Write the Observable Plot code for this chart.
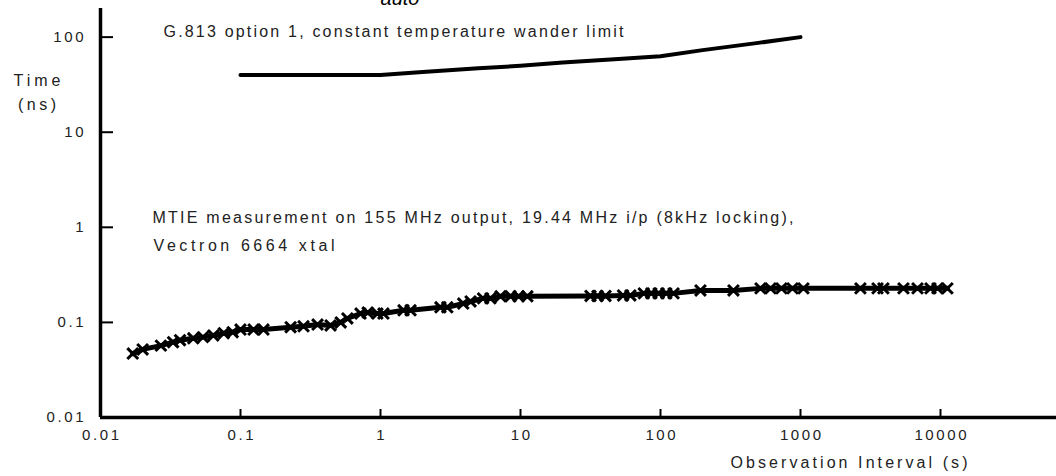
<!DOCTYPE html>
<html><head><meta charset="utf-8">
<script src="https://cdn.jsdelivr.net/npm/d3@7"></script>
<script src="https://cdn.jsdelivr.net/npm/@observablehq/plot@0.6"></script>
<style>body{margin:0;background:#fff;}</style>
</head><body><div id="chart"></div>
<script>
const limitTau = [0.1, 1, 2, 5, 10, 20, 50, 100, 200, 500, 1000];
const limitMtie = [40, 40, 43, 47, 50, 54, 59, 63, 73, 87, 100];
const measTau = [0.017,0.020,0.027,0.033,0.037,0.046,0.054,0.064,0.076,0.088,0.10,0.124,0.146,0.228,0.282,0.355,0.44,0.52,0.58,0.72,0.81,0.95,1.05,1.46,1.64,2.68,3.0,3.9,4.4,5.4,6.1,7.2,8.5,9.7,11.2,31.6,35.5,40.5,54,61,76,86,97,110,124,193,332,518,611,731,877,1050,2680,3550,3910,5440,6850,8480,9520,11200];
const measMtie = [0.047,0.052,0.057,0.062,0.065,0.068,0.070,0.073,0.077,0.079,0.084,0.084,0.084,0.089,0.091,0.095,0.093,0.100,0.110,0.124,0.127,0.124,0.124,0.134,0.134,0.144,0.144,0.158,0.166,0.179,0.179,0.188,0.188,0.188,0.188,0.190,0.190,0.190,0.192,0.192,0.202,0.202,0.202,0.202,0.202,0.217,0.217,0.228,0.228,0.228,0.228,0.228,0.228,0.228,0.228,0.228,0.228,0.228,0.228,0.228];
const xTicks = [0.01, 0.1, 1, 10, 100, 1000, 10000];
const xTickLabels = ["0.01", "0.1", "1", "10", "100", "1000", "10000"];
const yTicks = [0.01, 0.1, 1, 10, 100];
const yTickLabels = ["0.01", "0.1", "1", "10", "100"];
const limitLabel = "G.813 option 1, constant temperature wander limit";
const measLabel1 = "MTIE measurement on 155 MHz output, 19.44 MHz i/p (8kHz locking),";
const measLabel2 = "Vectron 6664 xtal";
const yLabel1 = "Time";
const yLabel2 = "(ns)";
const xLabel = "Observation Interval (s)";
const titleFragment = "auto";

const limit = limitTau.map((t, i) => ({tau: t, mtie: limitMtie[i]}));
const meas = measTau.map((t, i) => ({tau: t, mtie: measMtie[i]}));
const fmtX = d => xTickLabels[xTicks.indexOf(d)];
const fmtY = d => yTickLabels[yTicks.indexOf(d)];

const svg = Plot.plot({
  width: 1056, height: 476,
  marginLeft: 100, marginRight: 0, marginTop: 8, marginBottom: 59,
  style: {fontFamily: "'Liberation Sans', Arial, sans-serif", fontSize: "15px", color: "#222", letterSpacing: "2.6px", background: "white"},
  x: {type: "log", domain: [0.01, 67400]},
  y: {type: "log", domain: [0.01, 200]},
  marks: [
    Plot.axisX({ticks: xTicks.slice(1), tickSize: -8, text: null, label: null, strokeWidth: 2, stroke: "black"}),
    Plot.axisX({ticks: xTicks, tickSize: 0, tickPadding: 12, tickFormat: fmtX, label: null, dx: 1.3, fontSize: 15}),
    Plot.axisY({ticks: yTicks.slice(1), tickSize: -13, text: null, label: null, strokeWidth: 2, stroke: "black"}),
    Plot.axisY({ticks: yTicks, tickSize: 0, tickPadding: 14.4, tickFormat: fmtY, label: null, fontSize: 15}),
    Plot.ruleX([0.01], {strokeWidth: 3.5, stroke: "black"}),
    Plot.ruleY([0.01], {strokeWidth: 3.5, stroke: "black"}),
    Plot.line(limit, {x: "tau", y: "mtie", strokeWidth: 4, stroke: "black"}),
    Plot.line(meas, {x: "tau", y: "mtie", strokeWidth: 5, stroke: "black"}),
    Plot.dot(meas, {x: "tau", y: "mtie", symbol: "times", r: 5, stroke: "black", strokeWidth: 3}),
    Plot.text([limitLabel], {text: d => d, frameAnchor: "top-left", dx: 63, dy: 23, textAnchor: "start", lineAnchor: "middle", fill: "#222", fontSize: 16}),
    Plot.text([measLabel1], {text: d => d, frameAnchor: "top-left", dx: 52, dy: 209.5, textAnchor: "start", lineAnchor: "middle", fill: "#222", fontSize: 16}),
    Plot.text([measLabel2], {text: d => d, frameAnchor: "top-left", dx: 53, dy: 237.5, textAnchor: "start", lineAnchor: "middle", fill: "#222", fontSize: 16}),
    Plot.text([yLabel1], {text: d => d, frameAnchor: "top-left", dx: -63.5, dy: 72.5, textAnchor: "middle", lineAnchor: "middle", fill: "#222", fontSize: 16}),
    Plot.text([yLabel2], {text: d => d, frameAnchor: "top-left", dx: -63.5, dy: 96.5, textAnchor: "middle", lineAnchor: "middle", fill: "#222", fontSize: 16}),
    Plot.text([xLabel], {text: d => d, frameAnchor: "bottom-left", dx: 630, dy: 45, textAnchor: "start", lineAnchor: "middle", fill: "#222", fontSize: 16})
  ]
});

const fit = {};
fit[limitLabel] = 460; fit[measLabel1] = 641; fit[measLabel2] = 181;
fit[xLabel] = 237; fit[yLabel1] = 47; fit[yLabel2] = 38;
d3.select(svg).selectAll("text").each(function() {
  const t = this.textContent;
  if (fit[t]) {
    this.setAttribute("textLength", fit[t]);
    this.setAttribute("lengthAdjust", "spacing");
    this.style.letterSpacing = "0px";
  }
});
d3.select(svg).append("text")
  .attr("x", 400).attr("y", 5)
  .attr("font-style", "italic").attr("font-size", 20).attr("fill", "black")
  .style("letter-spacing", "0px")
  .text(titleFragment);

document.getElementById("chart").appendChild(svg);
</script>
</body></html>
